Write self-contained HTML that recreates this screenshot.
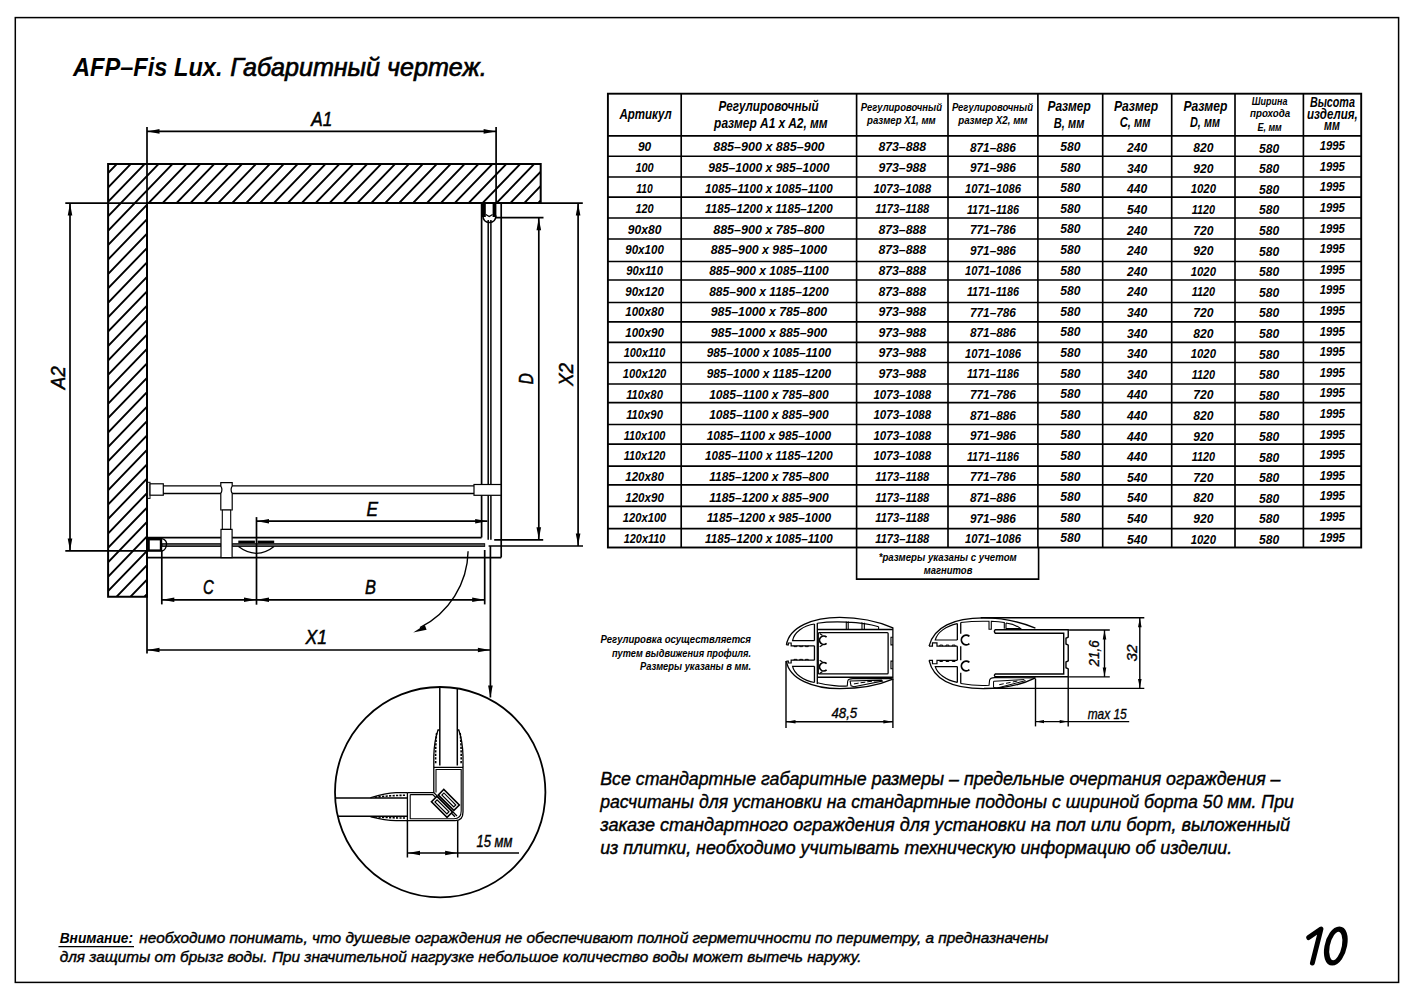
<!DOCTYPE html>
<html><head><meta charset="utf-8"><title>AFP-Fis Lux</title>
<style>
html,body{margin:0;padding:0;background:#fff;}
body{width:1414px;height:1000px;overflow:hidden;}
svg{display:block;font-family:"Liberation Sans", sans-serif;}
text{fill:#000;}
</style></head><body>
<svg width="1414" height="1000" viewBox="0 0 1414 1000">
<rect x="0" y="0" width="1414" height="1000" fill="#fff"/>
<rect x="15.3" y="17.6" width="1383.3" height="964.8" fill="none" stroke="#000" stroke-width="1.5"/>
<text x="73.00" y="76.20" font-size="26.5" text-anchor="start" font-weight="bold" font-style="italic" textLength="149.5" lengthAdjust="spacingAndGlyphs">AFP–Fis Lux.</text>
<text x="230.20" y="76.20" font-size="26.5" text-anchor="start" font-weight="normal" font-style="italic" textLength="256.5" lengthAdjust="spacingAndGlyphs" stroke="#000" stroke-width="0.7">Габаритный чертеж.</text>
<clipPath id="wc"><path d="M108.1,163.9 L540.7,163.9 L540.7,203.1 L147,203.1 L147,596.8 L108.1,596.8 Z"/></clipPath>
<path d="M60.80,150 L-383.10,610 M74.71,150 L-369.19,610 M88.62,150 L-355.28,610 M102.53,150 L-341.37,610 M116.44,150 L-327.46,610 M130.35,150 L-313.55,610 M144.26,150 L-299.64,610 M158.17,150 L-285.73,610 M172.08,150 L-271.82,610 M185.99,150 L-257.91,610 M199.90,150 L-244.00,610 M213.81,150 L-230.09,610 M227.72,150 L-216.18,610 M241.63,150 L-202.27,610 M255.54,150 L-188.36,610 M269.45,150 L-174.45,610 M283.36,150 L-160.54,610 M297.27,150 L-146.63,610 M311.18,150 L-132.72,610 M325.09,150 L-118.81,610 M339.00,150 L-104.90,610 M352.91,150 L-90.99,610 M366.82,150 L-77.08,610 M380.73,150 L-63.17,610 M394.64,150 L-49.26,610 M408.55,150 L-35.35,610 M422.46,150 L-21.44,610 M436.37,150 L-7.53,610 M450.28,150 L6.38,610 M464.19,150 L20.29,610 M478.10,150 L34.20,610 M492.01,150 L48.11,610 M505.92,150 L62.02,610 M519.83,150 L75.93,610 M533.74,150 L89.84,610 M547.65,150 L103.75,610 M561.56,150 L117.66,610 M575.47,150 L131.57,610 M589.38,150 L145.48,610 M603.29,150 L159.39,610 M617.20,150 L173.30,610 M631.11,150 L187.21,610 M645.02,150 L201.12,610 M658.93,150 L215.03,610 M672.84,150 L228.94,610 M686.75,150 L242.85,610 M700.66,150 L256.76,610 M714.57,150 L270.67,610 M728.48,150 L284.58,610 M742.39,150 L298.49,610" stroke="#000" stroke-width="1.9" fill="none" clip-path="url(#wc)"/>
<path d="M108.1,163.9 L540.7,163.9 L540.7,203.1 L147,203.1 L147,596.8 L108.1,596.8 Z" fill="none" stroke="#000" stroke-width="2.0"/>
<line x1="147.00" y1="127.00" x2="147.00" y2="203.10" stroke="#000" stroke-width="1.7"/>
<line x1="496.10" y1="127.00" x2="496.10" y2="203.10" stroke="#000" stroke-width="1.7"/>
<line x1="147.00" y1="131.40" x2="496.10" y2="131.40" stroke="#000" stroke-width="1.7"/>
<path d="M147.50,131.40 L159.50,129.10 L159.50,133.70 Z" fill="#000"/>
<path d="M495.60,131.40 L483.60,133.70 L483.60,129.10 Z" fill="#000"/>
<text x="311.30" y="125.70" font-size="20" text-anchor="start" font-weight="normal" font-style="italic" textLength="21.0" lengthAdjust="spacingAndGlyphs" stroke="#000" stroke-width="0.5">A1</text>
<line x1="65.30" y1="203.10" x2="147.00" y2="203.10" stroke="#000" stroke-width="1.7"/>
<line x1="65.30" y1="550.90" x2="147.00" y2="550.90" stroke="#000" stroke-width="1.7"/>
<line x1="70.00" y1="203.10" x2="70.00" y2="550.90" stroke="#000" stroke-width="1.7"/>
<path d="M70.00,203.60 L72.30,215.60 L67.70,215.60 Z" fill="#000"/>
<path d="M70.00,550.40 L67.70,538.40 L72.30,538.40 Z" fill="#000"/>
<text x="64.80" y="389.30" font-size="20" text-anchor="start" font-weight="normal" font-style="italic" textLength="23.0" lengthAdjust="spacingAndGlyphs" transform="rotate(-90 64.80 389.30)" stroke="#000" stroke-width="0.5">A2</text>
<line x1="540.70" y1="203.10" x2="582.80" y2="203.10" stroke="#000" stroke-width="1.7"/>
<line x1="147.00" y1="596.80" x2="147.00" y2="653.60" stroke="#000" stroke-width="1.7"/>
<line x1="495.50" y1="217.70" x2="543.50" y2="217.70" stroke="#000" stroke-width="1.7"/>
<line x1="494.20" y1="539.80" x2="543.20" y2="539.80" stroke="#000" stroke-width="1.7"/>
<line x1="538.80" y1="217.70" x2="538.80" y2="539.80" stroke="#000" stroke-width="1.7"/>
<path d="M538.80,218.20 L541.10,230.20 L536.50,230.20 Z" fill="#000"/>
<path d="M538.80,539.30 L536.50,527.30 L541.10,527.30 Z" fill="#000"/>
<text x="532.90" y="384.30" font-size="20" text-anchor="start" font-weight="normal" font-style="italic" textLength="11.0" lengthAdjust="spacingAndGlyphs" transform="rotate(-90 532.90 384.30)" stroke="#000" stroke-width="0.5">D</text>
<line x1="488.60" y1="546.00" x2="583.00" y2="546.00" stroke="#000" stroke-width="1.7"/>
<line x1="578.10" y1="203.10" x2="578.10" y2="546.00" stroke="#000" stroke-width="1.7"/>
<path d="M578.10,203.60 L580.40,215.60 L575.80,215.60 Z" fill="#000"/>
<path d="M578.10,545.50 L575.80,533.50 L580.40,533.50 Z" fill="#000"/>
<text x="572.50" y="386.00" font-size="20" text-anchor="start" font-weight="normal" font-style="italic" textLength="23.0" lengthAdjust="spacingAndGlyphs" transform="rotate(-90 572.50 386.00)" stroke="#000" stroke-width="0.5">X2</text>
<line x1="481.60" y1="203.10" x2="481.60" y2="537.60" stroke="#000" stroke-width="1.7"/>
<line x1="501.20" y1="203.10" x2="501.20" y2="557.60" stroke="#000" stroke-width="1.7"/>
<line x1="488.20" y1="220.00" x2="488.20" y2="539.70" stroke="#000" stroke-width="1.5"/>
<line x1="490.90" y1="220.00" x2="490.90" y2="539.70" stroke="#000" stroke-width="1.5"/>
<rect x="482" y="203.5" width="3.8" height="13.5" fill="#000"/>
<rect x="492.6" y="203.5" width="3.8" height="13.5" fill="#000"/>
<path d="M482.8,215.5 Q483.2,222.4 489.4,222.4 Q495.6,222.4 496,215.5" fill="none" stroke="#000" stroke-width="1.5"/>
<path d="M485.8,214.5 L489.2,216.5 L492.6,214.5" fill="none" stroke="#000" stroke-width="1.3"/>
<rect x="147.6" y="482.3" width="2.4" height="16.1" fill="#fff" stroke="#000" stroke-width="1"/>
<rect x="150" y="483.8" width="13.3" height="11.4" fill="#fff" stroke="#000" stroke-width="1.2"/>
<line x1="163.30" y1="485.90" x2="221.00" y2="485.90" stroke="#000" stroke-width="1.3"/>
<line x1="163.30" y1="493.50" x2="221.00" y2="493.50" stroke="#000" stroke-width="1.3"/>
<line x1="232.00" y1="485.90" x2="474.00" y2="485.90" stroke="#000" stroke-width="1.3"/>
<line x1="232.00" y1="493.50" x2="474.00" y2="493.50" stroke="#000" stroke-width="1.3"/>
<path d="M220.8,482.7 L232.2,482.7 L232.2,486 Q230,489.7 232.2,493.4 L232.2,510 L220.8,510 L220.8,493.4 Q223,489.7 220.8,486 Z" fill="#fff" stroke="#000" stroke-width="1.2"/>
<rect x="222.3" y="510" width="8.4" height="19.4" fill="#fff" stroke="#000" stroke-width="1.1"/>
<rect x="474" y="484.5" width="27" height="10.8" fill="#fff" stroke="#000" stroke-width="1.2"/>
<line x1="147.00" y1="537.60" x2="220.80" y2="537.60" stroke="#000" stroke-width="1.7"/>
<line x1="232.10" y1="537.60" x2="481.60" y2="537.60" stroke="#000" stroke-width="1.7"/>
<rect x="162" y="543.7" width="58.8" height="2.7" fill="#555" stroke="#000" stroke-width="0.9"/>
<rect x="232.1" y="543.7" width="252.6" height="2.7" fill="#555" stroke="#000" stroke-width="0.9"/>
<line x1="147.00" y1="557.60" x2="501.20" y2="557.60" stroke="#000" stroke-width="1.7"/>
<rect x="221" y="529.4" width="11.1" height="28.2" fill="#fff" stroke="#000" stroke-width="1.2"/>
<rect x="148.6" y="539.2" width="12.4" height="11.4" fill="#fff" stroke="#000" stroke-width="2.4"/>
<path d="M162,538.6 Q167,540 166.5,544.5 Q166,550 162,551" fill="none" stroke="#000" stroke-width="1.4"/>
<rect x="238.3" y="540.6" width="16.6" height="2.6" fill="#000"/>
<rect x="257.6" y="540.6" width="16.6" height="2.6" fill="#000"/>
<path d="M238.5,546.5 Q247,553 256.4,553.3 Q266,553 274,546.5" fill="none" stroke="#000" stroke-width="1.3"/>
<line x1="256.50" y1="517.10" x2="256.50" y2="604.70" stroke="#000" stroke-width="1.7"/>
<line x1="256.50" y1="521.20" x2="487.40" y2="521.20" stroke="#000" stroke-width="1.7"/>
<path d="M257.00,521.20 L269.00,518.90 L269.00,523.50 Z" fill="#000"/>
<path d="M487.20,521.20 L475.20,523.50 L475.20,518.90 Z" fill="#000"/>
<text x="366.50" y="515.50" font-size="20" text-anchor="start" font-weight="normal" font-style="italic" textLength="11.5" lengthAdjust="spacingAndGlyphs" stroke="#000" stroke-width="0.5">E</text>
<line x1="161.80" y1="551.00" x2="161.80" y2="604.40" stroke="#000" stroke-width="1.7"/>
<line x1="484.70" y1="550.00" x2="484.70" y2="604.40" stroke="#000" stroke-width="1.7"/>
<line x1="161.80" y1="599.80" x2="484.70" y2="599.80" stroke="#000" stroke-width="1.7"/>
<path d="M162.30,599.80 L174.30,597.50 L174.30,602.10 Z" fill="#000"/>
<path d="M256.00,599.80 L244.00,602.10 L244.00,597.50 Z" fill="#000"/>
<path d="M257.00,599.80 L269.00,597.50 L269.00,602.10 Z" fill="#000"/>
<path d="M484.20,599.80 L472.20,602.10 L472.20,597.50 Z" fill="#000"/>
<text x="203.00" y="593.80" font-size="20" text-anchor="start" font-weight="normal" font-style="italic" textLength="10.8" lengthAdjust="spacingAndGlyphs" stroke="#000" stroke-width="0.5">C</text>
<text x="365.00" y="593.80" font-size="20" text-anchor="start" font-weight="normal" font-style="italic" textLength="11.0" lengthAdjust="spacingAndGlyphs" stroke="#000" stroke-width="0.5">B</text>
<line x1="490.40" y1="546.00" x2="490.40" y2="697.50" stroke="#000" stroke-width="1.7"/>
<line x1="147.00" y1="650.00" x2="490.40" y2="650.00" stroke="#000" stroke-width="1.7"/>
<path d="M147.50,650.00 L159.50,647.70 L159.50,652.30 Z" fill="#000"/>
<path d="M489.90,650.00 L477.90,652.30 L477.90,647.70 Z" fill="#000"/>
<path d="M490.40,697.50 L488.10,685.50 L492.70,685.50 Z" fill="#000"/>
<text x="305.50" y="643.60" font-size="20" text-anchor="start" font-weight="normal" font-style="italic" textLength="21.5" lengthAdjust="spacingAndGlyphs" stroke="#000" stroke-width="0.5">X1</text>
<path d="M468.1,551.2 A87.5,87.5 0 0 1 420,627.6" fill="none" stroke="#000" stroke-width="1.4"/>
<path d="M413.20,632.40 L424.78,625.02 L426.65,629.65 Z" fill="#000"/>
<circle cx="440.2" cy="792.2" r="105.2" fill="none" stroke="#000" stroke-width="1.8"/>
<clipPath id="cc"><circle cx="440.2" cy="792.2" r="105"/></clipPath>
<g clip-path="url(#cc)" fill="none" stroke="#000" stroke-width="1.3"><path d="M439.8,680 L439.8,765.6 M457.3,680 L457.3,765.6" stroke-width="1.5"/><path d="M330,798.1 L407.4,798.1 M330,816.2 L407.4,816.2" stroke-width="1.5"/><path d="M407.4,792.6 L433.8,792.6 L457,816 M410.2,794.6 L432.8,794.6 L455,816.8"/><path d="M407.4,792.6 L407.4,820.7 L455,820.7 Q463,820.7 463,812 L463,767.3 L433.8,767.3 L433.8,792.6"/><path d="M410.2,794.6 L410.2,818.8 L454,818.8 Q461.2,818.8 461.2,811 L461.2,769.5 L436,769.5 L436,792.6" stroke-width="1.1"/><path d="M433.8,767 L433.8,756 Q434.2,741 438,730 L439.6,730 M463,767 L463,756 Q462.6,741 458.8,730 L457.3,730" stroke-width="1.3"/><path d="M436.6,733 Q435.3,748 435.7,764 M460.2,733 Q461.5,748 461.1,764" stroke-width="1.6" stroke-dasharray="2.2,1.3"/><path d="M407.4,792.6 L396,792.6 Q385,793 371,797.5 L371,798.3 M407.4,820.7 L396,820.7 Q385,820.2 371,816.8 L371,816.3" stroke-width="1.3"/><path d="M405,795.3 Q390,795.4 374,797.4 M405,818 Q390,818 374,816.6" stroke-width="1.6" stroke-dasharray="2.2,1.3"/><g transform="rotate(45 445.4 803.4)"><rect x="434.4" y="794.7" width="22" height="7.7" fill="#fff" stroke-width="1.6"/><rect x="434.4" y="804.4" width="22" height="7.7" fill="#fff" stroke-width="1.6"/><rect x="437" y="797.1" width="16.8" height="2.9" stroke-width="1.2"/><rect x="437" y="806.8" width="16.8" height="2.9" stroke-width="1.2"/></g></g>
<line x1="407.40" y1="821.00" x2="407.40" y2="857.50" stroke="#000" stroke-width="1.5"/>
<line x1="457.70" y1="821.00" x2="457.70" y2="857.50" stroke="#000" stroke-width="1.5"/>
<line x1="407.40" y1="853.00" x2="519.00" y2="853.00" stroke="#000" stroke-width="1.5"/>
<path d="M408.00,853.00 L420.00,850.70 L420.00,855.30 Z" fill="#000"/>
<path d="M457.10,853.00 L445.10,855.30 L445.10,850.70 Z" fill="#000"/>
<text x="476.50" y="847.30" font-size="16.5" text-anchor="start" font-weight="normal" font-style="italic" textLength="36.0" lengthAdjust="spacingAndGlyphs" stroke="#000" stroke-width="0.4">15 мм</text>
<path d=" M786.41,644.92 C789.26,626.86,813.02,617.36,839.64,617.36 C860.55,617.36,879.56,622.11,892.87,627.81 L892.87,679.14 C879.56,684.85,860.55,688.65,839.64,688.65 C813.02,688.65,789.26,679.14,786.41,661.08" fill="none" stroke="#000" stroke-width="1.3"/>
<path d=" M786.41,644.92 L788.31,644.92 L788.31,643.02 L791.16,643.02 L791.16,645.87 L814.45,645.87" fill="none" stroke="#000" stroke-width="1.2"/>
<path d=" M786.41,661.08 L788.31,661.08 L788.31,662.98 L791.16,662.98 L791.16,660.13 L814.45,660.13" fill="none" stroke="#000" stroke-width="1.2"/>
<path d=" M794.01,645.68 L794.01,646.63 L796.86,646.63 L796.86,645.68 M799.71,645.68 L799.71,646.63 L802.57,646.63 L802.57,645.68 M805.42,645.68 L805.42,646.63 L808.27,646.63 L808.27,645.68" fill="none" stroke="#000" stroke-width="1.0"/>
<path d=" M794.01,660.32 L794.01,659.37 L796.86,659.37 L796.86,660.32 M799.71,660.32 L799.71,659.37 L802.57,659.37 L802.57,660.32 M805.42,660.32 L805.42,659.37 L808.27,659.37 L808.27,660.32" fill="none" stroke="#000" stroke-width="1.0"/>
<path d=" M814.45,624.01 C803.52,625.44,794.01,632.57,792.59,640.65 L814.45,640.65" fill="none" stroke="#000" stroke-width="1.2"/>
<path d=" M814.45,682.47 C803.52,681.05,794.01,673.44,792.59,666.31 L814.45,666.31" fill="none" stroke="#000" stroke-width="1.2"/>
<path d=" M814.45,624.01 L814.45,640.65 M814.45,645.68 L814.45,660.32 M814.45,666.31 L814.45,682.47 M817.30,623.06 L817.30,683.90" fill="none" stroke="#000" stroke-width="1.3"/>
<path d=" M817.30,623.25 C832.03,620.97,860.55,621.35,878.61,626.67 M846.29,621.35 L846.29,629.24 M848.19,621.35 L848.19,629.24 M861.98,622.30 L861.98,629.24 M864.35,622.87 L864.35,629.24 M878.61,626.67 L878.61,629.24" fill="none" stroke="#000" stroke-width="1.1"/>
<path d=" M817.30,629.43 L892.87,629.43" fill="none" stroke="#000" stroke-width="1.5"/>
<path d=" M819.20,632.57 L887.17,632.57 Q888.12,632.57,888.12,633.52 L888.12,672.97 Q888.12,673.92,887.17,673.92 L819.20,673.92 Q818.25,673.92,818.25,672.97 L818.25,633.52 Q818.25,632.57,819.20,632.57 Z" fill="none" stroke="#000" stroke-width="1.3"/>
<path d=" M817.30,677.24 L892.87,677.24" fill="none" stroke="#000" stroke-width="1.5"/>
<path d=" M817.30,682.76 C828.23,685.61,841.54,686.56,847.24,685.99 L847.72,681.05 C848.19,679.14,850.10,678.67,852.95,678.67 L891.92,678.67" fill="none" stroke="#000" stroke-width="1.1"/>
<path d=" M850.10,681.05 L881.46,680.10 L882.41,681.05 L853.90,686.75 L851.05,685.80 Z" fill="none" stroke="#000" stroke-width="1.1"/>
<path d=" M853.90,683.90 L858.65,683.14 M860.55,682.76 L865.30,682.19 M867.21,681.81 L871.96,681.24 M873.86,681.05 L878.61,680.76" fill="none" stroke="#000" stroke-width="1.0"/>
<path d="M826.6,637.1 A4.2,4.2 0 1 0 826.6,643.3 M826.6,663.7 A4.2,4.2 0 1 0 826.6,669.9" fill="none" stroke="#000" stroke-width="1.7"/>
<path d=" M819.68,633.52 L822.53,635.42 M819.68,646.83 L822.53,644.92 M819.68,660.13 L822.53,662.03 M819.68,673.44 L822.53,671.54" fill="none" stroke="#000" stroke-width="1.2"/>
<path d=" M892.87,637.32 L890.97,637.32 L890.97,644.92 L892.87,644.92 M892.87,661.08 L890.97,661.08 L890.97,668.69 L892.87,668.69" fill="none" stroke="#000" stroke-width="1.1"/>
<path d=" M929.05,646.21 C933.58,626.97,953.95,617.92,983.37,617.92 C1006.00,617.92,1021.84,622.45,1035.42,628.10" fill="none" stroke="#000" stroke-width="1.3"/>
<path d=" M929.05,660.35 C933.58,680.16,953.95,688.64,983.37,688.64 C1006.00,688.64,1021.84,684.68,1035.42,677.89" fill="none" stroke="#000" stroke-width="1.3"/>
<path d=" M929.05,646.21 L932.45,646.21 L932.45,642.81 L936.97,642.81 L936.97,646.21 L957.34,646.21" fill="none" stroke="#000" stroke-width="1.2"/>
<path d=" M929.05,660.35 L932.45,660.35 L932.45,663.75 L936.97,663.75 L936.97,660.35 L957.34,660.35" fill="none" stroke="#000" stroke-width="1.2"/>
<path d=" M939.80,646.21 L939.80,645.08 L942.63,645.08 L942.63,646.21 M946.03,646.21 L946.03,645.08 L948.85,645.08 L948.85,646.21 M952.25,646.21 L952.25,645.08 L955.08,645.08 L955.08,646.21" fill="none" stroke="#000" stroke-width="1.0"/>
<path d=" M939.80,660.35 L939.80,661.49 L942.63,661.49 L942.63,660.35 M946.03,660.35 L946.03,661.49 L948.85,661.49 L948.85,660.35 M952.25,660.35 L952.25,661.49 L955.08,661.49 L955.08,660.35" fill="none" stroke="#000" stroke-width="1.0"/>
<path d=" M957.34,623.58 C946.03,625.84,936.97,632.63,935.28,639.99 L957.34,639.99" fill="none" stroke="#000" stroke-width="1.2"/>
<path d=" M957.34,682.42 C946.03,680.16,936.97,673.37,935.28,666.58 L957.34,666.58" fill="none" stroke="#000" stroke-width="1.2"/>
<path d=" M957.34,623.58 L957.34,639.99 M957.34,646.21 L957.34,660.35 M957.34,666.58 L957.34,682.42 M960.74,622.45 L960.74,633.76 M960.74,646.21 L960.74,660.35 M960.74,672.80 L960.74,683.55" fill="none" stroke="#000" stroke-width="1.3"/>
<path d=" M960.74,622.45 C970.92,621.32,979.97,621.09,989.02,621.32 L989.02,629.24 L991.29,629.24 L991.29,621.32 C999.21,621.88,1004.30,622.45,1004.30,622.45 L1004.30,628.67 M1006.00,623.01 L1006.00,628.67 L1020.71,628.67 C1017.31,625.84,1010.52,623.58,1006.00,623.01" fill="none" stroke="#000" stroke-width="1.1"/>
<path d=" M995.25,629.80 L1068.23,629.80 L1068.23,637.16 L1065.97,638.29 L1065.97,643.95 L1068.23,645.08 L1068.23,660.92 L1065.97,662.05 L1065.97,667.71 L1068.23,668.84 L1068.23,676.76 L995.25,676.76 Q993.55,675.29,995.25,673.93 L1063.71,673.93 L1063.71,633.20 L995.25,633.20 Q993.55,631.50,995.25,629.80 Z" fill="none" stroke="#000" stroke-width="1.4"/>
<path d=" M960.74,683.55 C970.92,685.25,981.10,685.81,989.02,685.25 L989.59,680.16 C990.16,677.89,992.42,677.67,994.68,677.67 L1035.42,677.89" fill="none" stroke="#000" stroke-width="1.1"/>
<path d=" M993.55,681.29 L1024.10,679.59 L1025.23,680.72 L996.94,688.08 L993.55,687.51 Z" fill="none" stroke="#000" stroke-width="1.0"/>
<path d=" M999.21,684.68 L1003.73,683.78 M1006.00,683.32 L1010.52,682.42 M1012.79,681.97 L1017.31,681.06" fill="none" stroke="#000" stroke-width="1.0"/>
<path d="M969.4,636.4 A4.8,4.8 0 1 0 969.4,643.6 M969.4,662.4 A4.8,4.8 0 1 0 969.4,669.6" fill="none" stroke="#000" stroke-width="1.8"/>
<line x1="786.00" y1="661.00" x2="786.00" y2="727.90" stroke="#000" stroke-width="1.4"/>
<line x1="892.90" y1="679.00" x2="892.90" y2="727.90" stroke="#000" stroke-width="1.4"/>
<line x1="786.00" y1="721.80" x2="892.90" y2="721.80" stroke="#000" stroke-width="1.4"/>
<path d="M786.50,721.80 L795.50,720.00 L795.50,723.60 Z" fill="#000"/>
<path d="M892.40,721.80 L883.40,723.60 L883.40,720.00 Z" fill="#000"/>
<text x="831.50" y="717.90" font-size="15" text-anchor="start" font-weight="normal" font-style="italic" textLength="25.7" lengthAdjust="spacingAndGlyphs" stroke="#000" stroke-width="0.35">48,5</text>
<line x1="980.70" y1="617.70" x2="1144.30" y2="617.70" stroke="#000" stroke-width="1.4"/>
<line x1="984.00" y1="688.40" x2="1144.30" y2="688.40" stroke="#000" stroke-width="1.4"/>
<line x1="1139.80" y1="617.70" x2="1139.80" y2="688.40" stroke="#000" stroke-width="1.4"/>
<path d="M1139.80,618.20 L1141.60,627.20 L1138.00,627.20 Z" fill="#000"/>
<path d="M1139.80,687.90 L1138.00,678.90 L1141.60,678.90 Z" fill="#000"/>
<text x="1136.50" y="653.00" font-size="15" text-anchor="middle" font-weight="normal" font-style="italic" textLength="17.0" lengthAdjust="spacingAndGlyphs" transform="rotate(-90 1136.50 653.00)" stroke="#000" stroke-width="0.35">32</text>
<line x1="1069.10" y1="630.00" x2="1109.80" y2="630.00" stroke="#000" stroke-width="1.4"/>
<line x1="1069.10" y1="676.90" x2="1109.80" y2="676.90" stroke="#000" stroke-width="1.4"/>
<line x1="1104.50" y1="630.00" x2="1104.50" y2="676.90" stroke="#000" stroke-width="1.4"/>
<path d="M1104.50,630.50 L1106.30,639.50 L1102.70,639.50 Z" fill="#000"/>
<path d="M1104.50,676.40 L1102.70,667.40 L1106.30,667.40 Z" fill="#000"/>
<text x="1099.00" y="653.40" font-size="15" text-anchor="middle" font-weight="normal" font-style="italic" textLength="26.0" lengthAdjust="spacingAndGlyphs" transform="rotate(-90 1099.00 653.40)" stroke="#000" stroke-width="0.35">21,6</text>
<line x1="1035.50" y1="678.70" x2="1035.50" y2="726.40" stroke="#000" stroke-width="1.4"/>
<line x1="1068.20" y1="676.90" x2="1068.20" y2="726.40" stroke="#000" stroke-width="1.4"/>
<line x1="1035.50" y1="721.60" x2="1129.20" y2="721.60" stroke="#000" stroke-width="1.4"/>
<path d="M1036.00,721.60 L1044.00,720.00 L1044.00,723.20 Z" fill="#000"/>
<path d="M1067.70,721.60 L1059.70,723.20 L1059.70,720.00 Z" fill="#000"/>
<text x="1087.70" y="719.30" font-size="15" text-anchor="start" font-weight="normal" font-style="italic" textLength="39.0" lengthAdjust="spacingAndGlyphs" stroke="#000" stroke-width="0.35">max 15</text>
<text x="751.00" y="642.50" font-size="10.5" text-anchor="end" font-weight="bold" font-style="italic" textLength="150.5" lengthAdjust="spacingAndGlyphs">Регулировка осуществляется</text>
<text x="751.00" y="656.50" font-size="10.5" text-anchor="end" font-weight="bold" font-style="italic" textLength="139.0" lengthAdjust="spacingAndGlyphs">путем выдвижения профиля.</text>
<text x="751.00" y="669.50" font-size="10.5" text-anchor="end" font-weight="bold" font-style="italic" textLength="111.0" lengthAdjust="spacingAndGlyphs">Размеры указаны в мм.</text>
<rect x="607.9" y="93.7" width="753.3" height="453.8" fill="none" stroke="#000" stroke-width="1.9"/><line x1="681.2" y1="93.7" x2="681.2" y2="547.5" stroke="#000" stroke-width="1.65"/><line x1="856.6" y1="93.7" x2="856.6" y2="547.5" stroke="#000" stroke-width="1.65"/><line x1="948.0" y1="93.7" x2="948.0" y2="547.5" stroke="#000" stroke-width="1.65"/><line x1="1037.9" y1="93.7" x2="1037.9" y2="547.5" stroke="#000" stroke-width="1.65"/><line x1="1102.7" y1="93.7" x2="1102.7" y2="547.5" stroke="#000" stroke-width="1.65"/><line x1="1171.7" y1="93.7" x2="1171.7" y2="547.5" stroke="#000" stroke-width="1.65"/><line x1="1235.0" y1="93.7" x2="1235.0" y2="547.5" stroke="#000" stroke-width="1.65"/><line x1="1303.4" y1="93.7" x2="1303.4" y2="547.5" stroke="#000" stroke-width="1.65"/><line x1="607.9" y1="135.9" x2="1361.2" y2="135.9" stroke="#000" stroke-width="1.65"/><line x1="607.9" y1="156.2" x2="1361.2" y2="156.2" stroke="#000" stroke-width="1.65"/><line x1="607.9" y1="177.0" x2="1361.2" y2="177.0" stroke="#000" stroke-width="1.65"/><line x1="607.9" y1="197.1" x2="1361.2" y2="197.1" stroke="#000" stroke-width="1.65"/><line x1="607.9" y1="218.0" x2="1361.2" y2="218.0" stroke="#000" stroke-width="1.65"/><line x1="607.9" y1="239.0" x2="1361.2" y2="239.0" stroke="#000" stroke-width="1.65"/><line x1="607.9" y1="261.5" x2="1361.2" y2="261.5" stroke="#000" stroke-width="1.65"/><line x1="607.9" y1="280.0" x2="1361.2" y2="280.0" stroke="#000" stroke-width="1.65"/><line x1="607.9" y1="302.5" x2="1361.2" y2="302.5" stroke="#000" stroke-width="1.65"/><line x1="607.9" y1="321.9" x2="1361.2" y2="321.9" stroke="#000" stroke-width="1.65"/><line x1="607.9" y1="342.3" x2="1361.2" y2="342.3" stroke="#000" stroke-width="1.65"/><line x1="607.9" y1="362.5" x2="1361.2" y2="362.5" stroke="#000" stroke-width="1.65"/><line x1="607.9" y1="384.0" x2="1361.2" y2="384.0" stroke="#000" stroke-width="1.65"/><line x1="607.9" y1="402.6" x2="1361.2" y2="402.6" stroke="#000" stroke-width="1.65"/><line x1="607.9" y1="424.5" x2="1361.2" y2="424.5" stroke="#000" stroke-width="1.65"/><line x1="607.9" y1="444.1" x2="1361.2" y2="444.1" stroke="#000" stroke-width="1.65"/><line x1="607.9" y1="466.1" x2="1361.2" y2="466.1" stroke="#000" stroke-width="1.65"/><line x1="607.9" y1="484.9" x2="1361.2" y2="484.9" stroke="#000" stroke-width="1.65"/><line x1="607.9" y1="506.4" x2="1361.2" y2="506.4" stroke="#000" stroke-width="1.65"/><line x1="607.9" y1="528.6" x2="1361.2" y2="528.6" stroke="#000" stroke-width="1.65"/>
<path d="M856.6,547.5 L856.6,579.1 L1038.6,579.1 L1038.6,547.5" fill="none" stroke="#000" stroke-width="1.6"/>
<text x="947.70" y="561.20" font-size="10.5" text-anchor="middle" font-weight="bold" font-style="italic" textLength="138.0" lengthAdjust="spacingAndGlyphs">*размеры указаны с учетом</text>
<text x="948.10" y="573.60" font-size="10.5" text-anchor="middle" font-weight="bold" font-style="italic" textLength="48.5" lengthAdjust="spacingAndGlyphs">магнитов</text>
<text x="644.55" y="151.40" font-size="13" text-anchor="middle" font-weight="bold" font-style="italic" textLength="13.3" lengthAdjust="spacingAndGlyphs">90</text>
<text x="768.90" y="151.40" font-size="13" text-anchor="middle" font-weight="bold" font-style="italic" textLength="111.4" lengthAdjust="spacingAndGlyphs">885–900 x 885–900</text>
<text x="902.30" y="151.40" font-size="13" text-anchor="middle" font-weight="bold" font-style="italic" textLength="47.8" lengthAdjust="spacingAndGlyphs">873–888</text>
<text x="992.95" y="151.80" font-size="13" text-anchor="middle" font-weight="bold" font-style="italic" textLength="45.9" lengthAdjust="spacingAndGlyphs">871–886</text>
<text x="1070.30" y="151.00" font-size="13" text-anchor="middle" font-weight="bold" font-style="italic" textLength="20.2" lengthAdjust="spacingAndGlyphs">580</text>
<text x="1137.20" y="152.10" font-size="13" text-anchor="middle" font-weight="bold" font-style="italic" textLength="20.2" lengthAdjust="spacingAndGlyphs">240</text>
<text x="1203.35" y="152.10" font-size="13" text-anchor="middle" font-weight="bold" font-style="italic" textLength="20.2" lengthAdjust="spacingAndGlyphs">820</text>
<text x="1269.20" y="152.50" font-size="13" text-anchor="middle" font-weight="bold" font-style="italic" textLength="20.2" lengthAdjust="spacingAndGlyphs">580</text>
<text x="1332.30" y="150.20" font-size="13" text-anchor="middle" font-weight="bold" font-style="italic" textLength="25.2" lengthAdjust="spacingAndGlyphs">1995</text>
<text x="644.55" y="172.00" font-size="13" text-anchor="middle" font-weight="bold" font-style="italic" textLength="18.3" lengthAdjust="spacingAndGlyphs">100</text>
<text x="768.90" y="172.00" font-size="13" text-anchor="middle" font-weight="bold" font-style="italic" textLength="121.4" lengthAdjust="spacingAndGlyphs">985–1000 x 985–1000</text>
<text x="902.30" y="172.00" font-size="13" text-anchor="middle" font-weight="bold" font-style="italic" textLength="47.8" lengthAdjust="spacingAndGlyphs">973–988</text>
<text x="992.95" y="172.40" font-size="13" text-anchor="middle" font-weight="bold" font-style="italic" textLength="45.9" lengthAdjust="spacingAndGlyphs">971–986</text>
<text x="1070.30" y="171.60" font-size="13" text-anchor="middle" font-weight="bold" font-style="italic" textLength="20.2" lengthAdjust="spacingAndGlyphs">580</text>
<text x="1137.20" y="172.70" font-size="13" text-anchor="middle" font-weight="bold" font-style="italic" textLength="20.2" lengthAdjust="spacingAndGlyphs">340</text>
<text x="1203.35" y="172.70" font-size="13" text-anchor="middle" font-weight="bold" font-style="italic" textLength="20.2" lengthAdjust="spacingAndGlyphs">920</text>
<text x="1269.20" y="173.10" font-size="13" text-anchor="middle" font-weight="bold" font-style="italic" textLength="20.2" lengthAdjust="spacingAndGlyphs">580</text>
<text x="1332.30" y="170.80" font-size="13" text-anchor="middle" font-weight="bold" font-style="italic" textLength="25.2" lengthAdjust="spacingAndGlyphs">1995</text>
<text x="644.55" y="192.60" font-size="13" text-anchor="middle" font-weight="bold" font-style="italic" textLength="16.4" lengthAdjust="spacingAndGlyphs">110</text>
<text x="768.90" y="192.60" font-size="13" text-anchor="middle" font-weight="bold" font-style="italic" textLength="127.6" lengthAdjust="spacingAndGlyphs">1085–1100 x 1085–1100</text>
<text x="902.30" y="192.60" font-size="13" text-anchor="middle" font-weight="bold" font-style="italic" textLength="57.8" lengthAdjust="spacingAndGlyphs">1073–1088</text>
<text x="992.95" y="193.00" font-size="13" text-anchor="middle" font-weight="bold" font-style="italic" textLength="55.9" lengthAdjust="spacingAndGlyphs">1071–1086</text>
<text x="1070.30" y="192.20" font-size="13" text-anchor="middle" font-weight="bold" font-style="italic" textLength="20.2" lengthAdjust="spacingAndGlyphs">580</text>
<text x="1137.20" y="193.30" font-size="13" text-anchor="middle" font-weight="bold" font-style="italic" textLength="20.2" lengthAdjust="spacingAndGlyphs">440</text>
<text x="1203.35" y="193.30" font-size="13" text-anchor="middle" font-weight="bold" font-style="italic" textLength="25.2" lengthAdjust="spacingAndGlyphs">1020</text>
<text x="1269.20" y="193.70" font-size="13" text-anchor="middle" font-weight="bold" font-style="italic" textLength="20.2" lengthAdjust="spacingAndGlyphs">580</text>
<text x="1332.30" y="191.40" font-size="13" text-anchor="middle" font-weight="bold" font-style="italic" textLength="25.2" lengthAdjust="spacingAndGlyphs">1995</text>
<text x="644.55" y="213.20" font-size="13" text-anchor="middle" font-weight="bold" font-style="italic" textLength="18.3" lengthAdjust="spacingAndGlyphs">120</text>
<text x="768.90" y="213.20" font-size="13" text-anchor="middle" font-weight="bold" font-style="italic" textLength="127.6" lengthAdjust="spacingAndGlyphs">1185–1200 x 1185–1200</text>
<text x="902.30" y="213.20" font-size="13" text-anchor="middle" font-weight="bold" font-style="italic" textLength="54.0" lengthAdjust="spacingAndGlyphs">1173–1188</text>
<text x="992.95" y="213.60" font-size="13" text-anchor="middle" font-weight="bold" font-style="italic" textLength="52.1" lengthAdjust="spacingAndGlyphs">1171–1186</text>
<text x="1070.30" y="212.80" font-size="13" text-anchor="middle" font-weight="bold" font-style="italic" textLength="20.2" lengthAdjust="spacingAndGlyphs">580</text>
<text x="1137.20" y="213.90" font-size="13" text-anchor="middle" font-weight="bold" font-style="italic" textLength="20.2" lengthAdjust="spacingAndGlyphs">540</text>
<text x="1203.35" y="213.90" font-size="13" text-anchor="middle" font-weight="bold" font-style="italic" textLength="23.3" lengthAdjust="spacingAndGlyphs">1120</text>
<text x="1269.20" y="214.30" font-size="13" text-anchor="middle" font-weight="bold" font-style="italic" textLength="20.2" lengthAdjust="spacingAndGlyphs">580</text>
<text x="1332.30" y="212.00" font-size="13" text-anchor="middle" font-weight="bold" font-style="italic" textLength="25.2" lengthAdjust="spacingAndGlyphs">1995</text>
<text x="644.55" y="233.80" font-size="13" text-anchor="middle" font-weight="bold" font-style="italic" textLength="33.6" lengthAdjust="spacingAndGlyphs">90x80</text>
<text x="768.90" y="233.80" font-size="13" text-anchor="middle" font-weight="bold" font-style="italic" textLength="111.4" lengthAdjust="spacingAndGlyphs">885–900 x 785–800</text>
<text x="902.30" y="233.80" font-size="13" text-anchor="middle" font-weight="bold" font-style="italic" textLength="47.8" lengthAdjust="spacingAndGlyphs">873–888</text>
<text x="992.95" y="234.20" font-size="13" text-anchor="middle" font-weight="bold" font-style="italic" textLength="45.9" lengthAdjust="spacingAndGlyphs">771–786</text>
<text x="1070.30" y="233.40" font-size="13" text-anchor="middle" font-weight="bold" font-style="italic" textLength="20.2" lengthAdjust="spacingAndGlyphs">580</text>
<text x="1137.20" y="234.50" font-size="13" text-anchor="middle" font-weight="bold" font-style="italic" textLength="20.2" lengthAdjust="spacingAndGlyphs">240</text>
<text x="1203.35" y="234.50" font-size="13" text-anchor="middle" font-weight="bold" font-style="italic" textLength="20.2" lengthAdjust="spacingAndGlyphs">720</text>
<text x="1269.20" y="234.90" font-size="13" text-anchor="middle" font-weight="bold" font-style="italic" textLength="20.2" lengthAdjust="spacingAndGlyphs">580</text>
<text x="1332.30" y="232.60" font-size="13" text-anchor="middle" font-weight="bold" font-style="italic" textLength="25.2" lengthAdjust="spacingAndGlyphs">1995</text>
<text x="644.55" y="254.40" font-size="13" text-anchor="middle" font-weight="bold" font-style="italic" textLength="38.6" lengthAdjust="spacingAndGlyphs">90x100</text>
<text x="768.90" y="254.40" font-size="13" text-anchor="middle" font-weight="bold" font-style="italic" textLength="116.4" lengthAdjust="spacingAndGlyphs">885–900 x 985–1000</text>
<text x="902.30" y="254.40" font-size="13" text-anchor="middle" font-weight="bold" font-style="italic" textLength="47.8" lengthAdjust="spacingAndGlyphs">873–888</text>
<text x="992.95" y="254.80" font-size="13" text-anchor="middle" font-weight="bold" font-style="italic" textLength="45.9" lengthAdjust="spacingAndGlyphs">971–986</text>
<text x="1070.30" y="254.00" font-size="13" text-anchor="middle" font-weight="bold" font-style="italic" textLength="20.2" lengthAdjust="spacingAndGlyphs">580</text>
<text x="1137.20" y="255.10" font-size="13" text-anchor="middle" font-weight="bold" font-style="italic" textLength="20.2" lengthAdjust="spacingAndGlyphs">240</text>
<text x="1203.35" y="255.10" font-size="13" text-anchor="middle" font-weight="bold" font-style="italic" textLength="20.2" lengthAdjust="spacingAndGlyphs">920</text>
<text x="1269.20" y="255.50" font-size="13" text-anchor="middle" font-weight="bold" font-style="italic" textLength="20.2" lengthAdjust="spacingAndGlyphs">580</text>
<text x="1332.30" y="253.20" font-size="13" text-anchor="middle" font-weight="bold" font-style="italic" textLength="25.2" lengthAdjust="spacingAndGlyphs">1995</text>
<text x="644.55" y="275.00" font-size="13" text-anchor="middle" font-weight="bold" font-style="italic" textLength="36.7" lengthAdjust="spacingAndGlyphs">90x110</text>
<text x="768.90" y="275.00" font-size="13" text-anchor="middle" font-weight="bold" font-style="italic" textLength="119.5" lengthAdjust="spacingAndGlyphs">885–900 x 1085–1100</text>
<text x="902.30" y="275.00" font-size="13" text-anchor="middle" font-weight="bold" font-style="italic" textLength="47.8" lengthAdjust="spacingAndGlyphs">873–888</text>
<text x="992.95" y="275.40" font-size="13" text-anchor="middle" font-weight="bold" font-style="italic" textLength="55.9" lengthAdjust="spacingAndGlyphs">1071–1086</text>
<text x="1070.30" y="274.60" font-size="13" text-anchor="middle" font-weight="bold" font-style="italic" textLength="20.2" lengthAdjust="spacingAndGlyphs">580</text>
<text x="1137.20" y="275.70" font-size="13" text-anchor="middle" font-weight="bold" font-style="italic" textLength="20.2" lengthAdjust="spacingAndGlyphs">240</text>
<text x="1203.35" y="275.70" font-size="13" text-anchor="middle" font-weight="bold" font-style="italic" textLength="25.2" lengthAdjust="spacingAndGlyphs">1020</text>
<text x="1269.20" y="276.10" font-size="13" text-anchor="middle" font-weight="bold" font-style="italic" textLength="20.2" lengthAdjust="spacingAndGlyphs">580</text>
<text x="1332.30" y="273.80" font-size="13" text-anchor="middle" font-weight="bold" font-style="italic" textLength="25.2" lengthAdjust="spacingAndGlyphs">1995</text>
<text x="644.55" y="295.60" font-size="13" text-anchor="middle" font-weight="bold" font-style="italic" textLength="38.6" lengthAdjust="spacingAndGlyphs">90x120</text>
<text x="768.90" y="295.60" font-size="13" text-anchor="middle" font-weight="bold" font-style="italic" textLength="119.5" lengthAdjust="spacingAndGlyphs">885–900 x 1185–1200</text>
<text x="902.30" y="295.60" font-size="13" text-anchor="middle" font-weight="bold" font-style="italic" textLength="47.8" lengthAdjust="spacingAndGlyphs">873–888</text>
<text x="992.95" y="296.00" font-size="13" text-anchor="middle" font-weight="bold" font-style="italic" textLength="52.1" lengthAdjust="spacingAndGlyphs">1171–1186</text>
<text x="1070.30" y="295.20" font-size="13" text-anchor="middle" font-weight="bold" font-style="italic" textLength="20.2" lengthAdjust="spacingAndGlyphs">580</text>
<text x="1137.20" y="296.30" font-size="13" text-anchor="middle" font-weight="bold" font-style="italic" textLength="20.2" lengthAdjust="spacingAndGlyphs">240</text>
<text x="1203.35" y="296.30" font-size="13" text-anchor="middle" font-weight="bold" font-style="italic" textLength="23.3" lengthAdjust="spacingAndGlyphs">1120</text>
<text x="1269.20" y="296.70" font-size="13" text-anchor="middle" font-weight="bold" font-style="italic" textLength="20.2" lengthAdjust="spacingAndGlyphs">580</text>
<text x="1332.30" y="294.40" font-size="13" text-anchor="middle" font-weight="bold" font-style="italic" textLength="25.2" lengthAdjust="spacingAndGlyphs">1995</text>
<text x="644.55" y="316.20" font-size="13" text-anchor="middle" font-weight="bold" font-style="italic" textLength="38.6" lengthAdjust="spacingAndGlyphs">100x80</text>
<text x="768.90" y="316.20" font-size="13" text-anchor="middle" font-weight="bold" font-style="italic" textLength="116.4" lengthAdjust="spacingAndGlyphs">985–1000 x 785–800</text>
<text x="902.30" y="316.20" font-size="13" text-anchor="middle" font-weight="bold" font-style="italic" textLength="47.8" lengthAdjust="spacingAndGlyphs">973–988</text>
<text x="992.95" y="316.60" font-size="13" text-anchor="middle" font-weight="bold" font-style="italic" textLength="45.9" lengthAdjust="spacingAndGlyphs">771–786</text>
<text x="1070.30" y="315.80" font-size="13" text-anchor="middle" font-weight="bold" font-style="italic" textLength="20.2" lengthAdjust="spacingAndGlyphs">580</text>
<text x="1137.20" y="316.90" font-size="13" text-anchor="middle" font-weight="bold" font-style="italic" textLength="20.2" lengthAdjust="spacingAndGlyphs">340</text>
<text x="1203.35" y="316.90" font-size="13" text-anchor="middle" font-weight="bold" font-style="italic" textLength="20.2" lengthAdjust="spacingAndGlyphs">720</text>
<text x="1269.20" y="317.30" font-size="13" text-anchor="middle" font-weight="bold" font-style="italic" textLength="20.2" lengthAdjust="spacingAndGlyphs">580</text>
<text x="1332.30" y="315.00" font-size="13" text-anchor="middle" font-weight="bold" font-style="italic" textLength="25.2" lengthAdjust="spacingAndGlyphs">1995</text>
<text x="644.55" y="336.80" font-size="13" text-anchor="middle" font-weight="bold" font-style="italic" textLength="38.6" lengthAdjust="spacingAndGlyphs">100x90</text>
<text x="768.90" y="336.80" font-size="13" text-anchor="middle" font-weight="bold" font-style="italic" textLength="116.4" lengthAdjust="spacingAndGlyphs">985–1000 x 885–900</text>
<text x="902.30" y="336.80" font-size="13" text-anchor="middle" font-weight="bold" font-style="italic" textLength="47.8" lengthAdjust="spacingAndGlyphs">973–988</text>
<text x="992.95" y="337.20" font-size="13" text-anchor="middle" font-weight="bold" font-style="italic" textLength="45.9" lengthAdjust="spacingAndGlyphs">871–886</text>
<text x="1070.30" y="336.40" font-size="13" text-anchor="middle" font-weight="bold" font-style="italic" textLength="20.2" lengthAdjust="spacingAndGlyphs">580</text>
<text x="1137.20" y="337.50" font-size="13" text-anchor="middle" font-weight="bold" font-style="italic" textLength="20.2" lengthAdjust="spacingAndGlyphs">340</text>
<text x="1203.35" y="337.50" font-size="13" text-anchor="middle" font-weight="bold" font-style="italic" textLength="20.2" lengthAdjust="spacingAndGlyphs">820</text>
<text x="1269.20" y="337.90" font-size="13" text-anchor="middle" font-weight="bold" font-style="italic" textLength="20.2" lengthAdjust="spacingAndGlyphs">580</text>
<text x="1332.30" y="335.60" font-size="13" text-anchor="middle" font-weight="bold" font-style="italic" textLength="25.2" lengthAdjust="spacingAndGlyphs">1995</text>
<text x="644.55" y="357.40" font-size="13" text-anchor="middle" font-weight="bold" font-style="italic" textLength="41.7" lengthAdjust="spacingAndGlyphs">100x110</text>
<text x="768.90" y="357.40" font-size="13" text-anchor="middle" font-weight="bold" font-style="italic" textLength="124.5" lengthAdjust="spacingAndGlyphs">985–1000 x 1085–1100</text>
<text x="902.30" y="357.40" font-size="13" text-anchor="middle" font-weight="bold" font-style="italic" textLength="47.8" lengthAdjust="spacingAndGlyphs">973–988</text>
<text x="992.95" y="357.80" font-size="13" text-anchor="middle" font-weight="bold" font-style="italic" textLength="55.9" lengthAdjust="spacingAndGlyphs">1071–1086</text>
<text x="1070.30" y="357.00" font-size="13" text-anchor="middle" font-weight="bold" font-style="italic" textLength="20.2" lengthAdjust="spacingAndGlyphs">580</text>
<text x="1137.20" y="358.10" font-size="13" text-anchor="middle" font-weight="bold" font-style="italic" textLength="20.2" lengthAdjust="spacingAndGlyphs">340</text>
<text x="1203.35" y="358.10" font-size="13" text-anchor="middle" font-weight="bold" font-style="italic" textLength="25.2" lengthAdjust="spacingAndGlyphs">1020</text>
<text x="1269.20" y="358.50" font-size="13" text-anchor="middle" font-weight="bold" font-style="italic" textLength="20.2" lengthAdjust="spacingAndGlyphs">580</text>
<text x="1332.30" y="356.20" font-size="13" text-anchor="middle" font-weight="bold" font-style="italic" textLength="25.2" lengthAdjust="spacingAndGlyphs">1995</text>
<text x="644.55" y="378.00" font-size="13" text-anchor="middle" font-weight="bold" font-style="italic" textLength="43.6" lengthAdjust="spacingAndGlyphs">100x120</text>
<text x="768.90" y="378.00" font-size="13" text-anchor="middle" font-weight="bold" font-style="italic" textLength="124.5" lengthAdjust="spacingAndGlyphs">985–1000 x 1185–1200</text>
<text x="902.30" y="378.00" font-size="13" text-anchor="middle" font-weight="bold" font-style="italic" textLength="47.8" lengthAdjust="spacingAndGlyphs">973–988</text>
<text x="992.95" y="378.40" font-size="13" text-anchor="middle" font-weight="bold" font-style="italic" textLength="52.1" lengthAdjust="spacingAndGlyphs">1171–1186</text>
<text x="1070.30" y="377.60" font-size="13" text-anchor="middle" font-weight="bold" font-style="italic" textLength="20.2" lengthAdjust="spacingAndGlyphs">580</text>
<text x="1137.20" y="378.70" font-size="13" text-anchor="middle" font-weight="bold" font-style="italic" textLength="20.2" lengthAdjust="spacingAndGlyphs">340</text>
<text x="1203.35" y="378.70" font-size="13" text-anchor="middle" font-weight="bold" font-style="italic" textLength="23.3" lengthAdjust="spacingAndGlyphs">1120</text>
<text x="1269.20" y="379.10" font-size="13" text-anchor="middle" font-weight="bold" font-style="italic" textLength="20.2" lengthAdjust="spacingAndGlyphs">580</text>
<text x="1332.30" y="376.80" font-size="13" text-anchor="middle" font-weight="bold" font-style="italic" textLength="25.2" lengthAdjust="spacingAndGlyphs">1995</text>
<text x="644.55" y="398.60" font-size="13" text-anchor="middle" font-weight="bold" font-style="italic" textLength="36.7" lengthAdjust="spacingAndGlyphs">110x80</text>
<text x="768.90" y="398.60" font-size="13" text-anchor="middle" font-weight="bold" font-style="italic" textLength="119.5" lengthAdjust="spacingAndGlyphs">1085–1100 x 785–800</text>
<text x="902.30" y="398.60" font-size="13" text-anchor="middle" font-weight="bold" font-style="italic" textLength="57.8" lengthAdjust="spacingAndGlyphs">1073–1088</text>
<text x="992.95" y="399.00" font-size="13" text-anchor="middle" font-weight="bold" font-style="italic" textLength="45.9" lengthAdjust="spacingAndGlyphs">771–786</text>
<text x="1070.30" y="398.20" font-size="13" text-anchor="middle" font-weight="bold" font-style="italic" textLength="20.2" lengthAdjust="spacingAndGlyphs">580</text>
<text x="1137.20" y="399.30" font-size="13" text-anchor="middle" font-weight="bold" font-style="italic" textLength="20.2" lengthAdjust="spacingAndGlyphs">440</text>
<text x="1203.35" y="399.30" font-size="13" text-anchor="middle" font-weight="bold" font-style="italic" textLength="20.2" lengthAdjust="spacingAndGlyphs">720</text>
<text x="1269.20" y="399.70" font-size="13" text-anchor="middle" font-weight="bold" font-style="italic" textLength="20.2" lengthAdjust="spacingAndGlyphs">580</text>
<text x="1332.30" y="397.40" font-size="13" text-anchor="middle" font-weight="bold" font-style="italic" textLength="25.2" lengthAdjust="spacingAndGlyphs">1995</text>
<text x="644.55" y="419.20" font-size="13" text-anchor="middle" font-weight="bold" font-style="italic" textLength="36.7" lengthAdjust="spacingAndGlyphs">110x90</text>
<text x="768.90" y="419.20" font-size="13" text-anchor="middle" font-weight="bold" font-style="italic" textLength="119.5" lengthAdjust="spacingAndGlyphs">1085–1100 x 885–900</text>
<text x="902.30" y="419.20" font-size="13" text-anchor="middle" font-weight="bold" font-style="italic" textLength="57.8" lengthAdjust="spacingAndGlyphs">1073–1088</text>
<text x="992.95" y="419.60" font-size="13" text-anchor="middle" font-weight="bold" font-style="italic" textLength="45.9" lengthAdjust="spacingAndGlyphs">871–886</text>
<text x="1070.30" y="418.80" font-size="13" text-anchor="middle" font-weight="bold" font-style="italic" textLength="20.2" lengthAdjust="spacingAndGlyphs">580</text>
<text x="1137.20" y="419.90" font-size="13" text-anchor="middle" font-weight="bold" font-style="italic" textLength="20.2" lengthAdjust="spacingAndGlyphs">440</text>
<text x="1203.35" y="419.90" font-size="13" text-anchor="middle" font-weight="bold" font-style="italic" textLength="20.2" lengthAdjust="spacingAndGlyphs">820</text>
<text x="1269.20" y="420.30" font-size="13" text-anchor="middle" font-weight="bold" font-style="italic" textLength="20.2" lengthAdjust="spacingAndGlyphs">580</text>
<text x="1332.30" y="418.00" font-size="13" text-anchor="middle" font-weight="bold" font-style="italic" textLength="25.2" lengthAdjust="spacingAndGlyphs">1995</text>
<text x="644.55" y="439.80" font-size="13" text-anchor="middle" font-weight="bold" font-style="italic" textLength="41.7" lengthAdjust="spacingAndGlyphs">110x100</text>
<text x="768.90" y="439.80" font-size="13" text-anchor="middle" font-weight="bold" font-style="italic" textLength="124.5" lengthAdjust="spacingAndGlyphs">1085–1100 x 985–1000</text>
<text x="902.30" y="439.80" font-size="13" text-anchor="middle" font-weight="bold" font-style="italic" textLength="57.8" lengthAdjust="spacingAndGlyphs">1073–1088</text>
<text x="992.95" y="440.20" font-size="13" text-anchor="middle" font-weight="bold" font-style="italic" textLength="45.9" lengthAdjust="spacingAndGlyphs">971–986</text>
<text x="1070.30" y="439.40" font-size="13" text-anchor="middle" font-weight="bold" font-style="italic" textLength="20.2" lengthAdjust="spacingAndGlyphs">580</text>
<text x="1137.20" y="440.50" font-size="13" text-anchor="middle" font-weight="bold" font-style="italic" textLength="20.2" lengthAdjust="spacingAndGlyphs">440</text>
<text x="1203.35" y="440.50" font-size="13" text-anchor="middle" font-weight="bold" font-style="italic" textLength="20.2" lengthAdjust="spacingAndGlyphs">920</text>
<text x="1269.20" y="440.90" font-size="13" text-anchor="middle" font-weight="bold" font-style="italic" textLength="20.2" lengthAdjust="spacingAndGlyphs">580</text>
<text x="1332.30" y="438.60" font-size="13" text-anchor="middle" font-weight="bold" font-style="italic" textLength="25.2" lengthAdjust="spacingAndGlyphs">1995</text>
<text x="644.55" y="460.40" font-size="13" text-anchor="middle" font-weight="bold" font-style="italic" textLength="41.7" lengthAdjust="spacingAndGlyphs">110x120</text>
<text x="768.90" y="460.40" font-size="13" text-anchor="middle" font-weight="bold" font-style="italic" textLength="127.6" lengthAdjust="spacingAndGlyphs">1085–1100 x 1185–1200</text>
<text x="902.30" y="460.40" font-size="13" text-anchor="middle" font-weight="bold" font-style="italic" textLength="57.8" lengthAdjust="spacingAndGlyphs">1073–1088</text>
<text x="992.95" y="460.80" font-size="13" text-anchor="middle" font-weight="bold" font-style="italic" textLength="52.1" lengthAdjust="spacingAndGlyphs">1171–1186</text>
<text x="1070.30" y="460.00" font-size="13" text-anchor="middle" font-weight="bold" font-style="italic" textLength="20.2" lengthAdjust="spacingAndGlyphs">580</text>
<text x="1137.20" y="461.10" font-size="13" text-anchor="middle" font-weight="bold" font-style="italic" textLength="20.2" lengthAdjust="spacingAndGlyphs">440</text>
<text x="1203.35" y="461.10" font-size="13" text-anchor="middle" font-weight="bold" font-style="italic" textLength="23.3" lengthAdjust="spacingAndGlyphs">1120</text>
<text x="1269.20" y="461.50" font-size="13" text-anchor="middle" font-weight="bold" font-style="italic" textLength="20.2" lengthAdjust="spacingAndGlyphs">580</text>
<text x="1332.30" y="459.20" font-size="13" text-anchor="middle" font-weight="bold" font-style="italic" textLength="25.2" lengthAdjust="spacingAndGlyphs">1995</text>
<text x="644.55" y="481.00" font-size="13" text-anchor="middle" font-weight="bold" font-style="italic" textLength="38.6" lengthAdjust="spacingAndGlyphs">120x80</text>
<text x="768.90" y="481.00" font-size="13" text-anchor="middle" font-weight="bold" font-style="italic" textLength="119.5" lengthAdjust="spacingAndGlyphs">1185–1200 x 785–800</text>
<text x="902.30" y="481.00" font-size="13" text-anchor="middle" font-weight="bold" font-style="italic" textLength="54.0" lengthAdjust="spacingAndGlyphs">1173–1188</text>
<text x="992.95" y="481.40" font-size="13" text-anchor="middle" font-weight="bold" font-style="italic" textLength="45.9" lengthAdjust="spacingAndGlyphs">771–786</text>
<text x="1070.30" y="480.60" font-size="13" text-anchor="middle" font-weight="bold" font-style="italic" textLength="20.2" lengthAdjust="spacingAndGlyphs">580</text>
<text x="1137.20" y="481.70" font-size="13" text-anchor="middle" font-weight="bold" font-style="italic" textLength="20.2" lengthAdjust="spacingAndGlyphs">540</text>
<text x="1203.35" y="481.70" font-size="13" text-anchor="middle" font-weight="bold" font-style="italic" textLength="20.2" lengthAdjust="spacingAndGlyphs">720</text>
<text x="1269.20" y="482.10" font-size="13" text-anchor="middle" font-weight="bold" font-style="italic" textLength="20.2" lengthAdjust="spacingAndGlyphs">580</text>
<text x="1332.30" y="479.80" font-size="13" text-anchor="middle" font-weight="bold" font-style="italic" textLength="25.2" lengthAdjust="spacingAndGlyphs">1995</text>
<text x="644.55" y="501.60" font-size="13" text-anchor="middle" font-weight="bold" font-style="italic" textLength="38.6" lengthAdjust="spacingAndGlyphs">120x90</text>
<text x="768.90" y="501.60" font-size="13" text-anchor="middle" font-weight="bold" font-style="italic" textLength="119.5" lengthAdjust="spacingAndGlyphs">1185–1200 x 885–900</text>
<text x="902.30" y="501.60" font-size="13" text-anchor="middle" font-weight="bold" font-style="italic" textLength="54.0" lengthAdjust="spacingAndGlyphs">1173–1188</text>
<text x="992.95" y="502.00" font-size="13" text-anchor="middle" font-weight="bold" font-style="italic" textLength="45.9" lengthAdjust="spacingAndGlyphs">871–886</text>
<text x="1070.30" y="501.20" font-size="13" text-anchor="middle" font-weight="bold" font-style="italic" textLength="20.2" lengthAdjust="spacingAndGlyphs">580</text>
<text x="1137.20" y="502.30" font-size="13" text-anchor="middle" font-weight="bold" font-style="italic" textLength="20.2" lengthAdjust="spacingAndGlyphs">540</text>
<text x="1203.35" y="502.30" font-size="13" text-anchor="middle" font-weight="bold" font-style="italic" textLength="20.2" lengthAdjust="spacingAndGlyphs">820</text>
<text x="1269.20" y="502.70" font-size="13" text-anchor="middle" font-weight="bold" font-style="italic" textLength="20.2" lengthAdjust="spacingAndGlyphs">580</text>
<text x="1332.30" y="500.40" font-size="13" text-anchor="middle" font-weight="bold" font-style="italic" textLength="25.2" lengthAdjust="spacingAndGlyphs">1995</text>
<text x="644.55" y="522.20" font-size="13" text-anchor="middle" font-weight="bold" font-style="italic" textLength="43.6" lengthAdjust="spacingAndGlyphs">120x100</text>
<text x="768.90" y="522.20" font-size="13" text-anchor="middle" font-weight="bold" font-style="italic" textLength="124.5" lengthAdjust="spacingAndGlyphs">1185–1200 x 985–1000</text>
<text x="902.30" y="522.20" font-size="13" text-anchor="middle" font-weight="bold" font-style="italic" textLength="54.0" lengthAdjust="spacingAndGlyphs">1173–1188</text>
<text x="992.95" y="522.60" font-size="13" text-anchor="middle" font-weight="bold" font-style="italic" textLength="45.9" lengthAdjust="spacingAndGlyphs">971–986</text>
<text x="1070.30" y="521.80" font-size="13" text-anchor="middle" font-weight="bold" font-style="italic" textLength="20.2" lengthAdjust="spacingAndGlyphs">580</text>
<text x="1137.20" y="522.90" font-size="13" text-anchor="middle" font-weight="bold" font-style="italic" textLength="20.2" lengthAdjust="spacingAndGlyphs">540</text>
<text x="1203.35" y="522.90" font-size="13" text-anchor="middle" font-weight="bold" font-style="italic" textLength="20.2" lengthAdjust="spacingAndGlyphs">920</text>
<text x="1269.20" y="523.30" font-size="13" text-anchor="middle" font-weight="bold" font-style="italic" textLength="20.2" lengthAdjust="spacingAndGlyphs">580</text>
<text x="1332.30" y="521.00" font-size="13" text-anchor="middle" font-weight="bold" font-style="italic" textLength="25.2" lengthAdjust="spacingAndGlyphs">1995</text>
<text x="644.55" y="542.80" font-size="13" text-anchor="middle" font-weight="bold" font-style="italic" textLength="41.7" lengthAdjust="spacingAndGlyphs">120x110</text>
<text x="768.90" y="542.80" font-size="13" text-anchor="middle" font-weight="bold" font-style="italic" textLength="127.6" lengthAdjust="spacingAndGlyphs">1185–1200 x 1085–1100</text>
<text x="902.30" y="542.80" font-size="13" text-anchor="middle" font-weight="bold" font-style="italic" textLength="54.0" lengthAdjust="spacingAndGlyphs">1173–1188</text>
<text x="992.95" y="543.20" font-size="13" text-anchor="middle" font-weight="bold" font-style="italic" textLength="55.9" lengthAdjust="spacingAndGlyphs">1071–1086</text>
<text x="1070.30" y="542.40" font-size="13" text-anchor="middle" font-weight="bold" font-style="italic" textLength="20.2" lengthAdjust="spacingAndGlyphs">580</text>
<text x="1137.20" y="543.50" font-size="13" text-anchor="middle" font-weight="bold" font-style="italic" textLength="20.2" lengthAdjust="spacingAndGlyphs">540</text>
<text x="1203.35" y="543.50" font-size="13" text-anchor="middle" font-weight="bold" font-style="italic" textLength="25.2" lengthAdjust="spacingAndGlyphs">1020</text>
<text x="1269.20" y="543.90" font-size="13" text-anchor="middle" font-weight="bold" font-style="italic" textLength="20.2" lengthAdjust="spacingAndGlyphs">580</text>
<text x="1332.30" y="541.60" font-size="13" text-anchor="middle" font-weight="bold" font-style="italic" textLength="25.2" lengthAdjust="spacingAndGlyphs">1995</text>
<text x="619.40" y="118.90" font-size="14" text-anchor="start" font-weight="bold" font-style="italic" textLength="52.3" lengthAdjust="spacingAndGlyphs">Артикул</text>
<text x="718.60" y="110.70" font-size="14" text-anchor="start" font-weight="bold" font-style="italic" textLength="100.0" lengthAdjust="spacingAndGlyphs">Регулировочный</text>
<text x="714.10" y="127.90" font-size="14" text-anchor="start" font-weight="bold" font-style="italic" textLength="113.6" lengthAdjust="spacingAndGlyphs">размер A1 x A2, мм</text>
<text x="860.80" y="110.70" font-size="11" text-anchor="start" font-weight="bold" font-style="italic" textLength="81.2" lengthAdjust="spacingAndGlyphs">Регулировочный</text>
<text x="867.10" y="124.30" font-size="11" text-anchor="start" font-weight="bold" font-style="italic" textLength="68.6" lengthAdjust="spacingAndGlyphs">размер X1, мм</text>
<text x="951.90" y="110.70" font-size="11" text-anchor="start" font-weight="bold" font-style="italic" textLength="81.1" lengthAdjust="spacingAndGlyphs">Регулировочный</text>
<text x="958.20" y="124.30" font-size="11" text-anchor="start" font-weight="bold" font-style="italic" textLength="69.4" lengthAdjust="spacingAndGlyphs">размер X2, мм</text>
<text x="1047.50" y="111.40" font-size="15" text-anchor="start" font-weight="bold" font-style="italic" textLength="43.3" lengthAdjust="spacingAndGlyphs">Размер</text>
<text x="1114.00" y="111.40" font-size="15" text-anchor="start" font-weight="bold" font-style="italic" textLength="44.1" lengthAdjust="spacingAndGlyphs">Размер</text>
<text x="1183.40" y="111.40" font-size="15" text-anchor="start" font-weight="bold" font-style="italic" textLength="44.0" lengthAdjust="spacingAndGlyphs">Размер</text>
<text x="1053.80" y="127.90" font-size="15" text-anchor="start" font-weight="bold" font-style="italic" textLength="30.6" lengthAdjust="spacingAndGlyphs">B, мм</text>
<text x="1119.70" y="127.00" font-size="15" text-anchor="start" font-weight="bold" font-style="italic" textLength="30.9" lengthAdjust="spacingAndGlyphs">C, мм</text>
<text x="1190.00" y="127.00" font-size="15" text-anchor="start" font-weight="bold" font-style="italic" textLength="30.0" lengthAdjust="spacingAndGlyphs">D, мм</text>
<text x="1251.80" y="104.60" font-size="11" text-anchor="start" font-weight="bold" font-style="italic" textLength="35.6" lengthAdjust="spacingAndGlyphs">Ширина</text>
<text x="1250.00" y="117.20" font-size="11" text-anchor="start" font-weight="bold" font-style="italic" textLength="40.2" lengthAdjust="spacingAndGlyphs">прохода</text>
<text x="1257.40" y="130.90" font-size="11" text-anchor="start" font-weight="bold" font-style="italic" textLength="24.4" lengthAdjust="spacingAndGlyphs">E, мм</text>
<text x="1309.90" y="107.20" font-size="14" text-anchor="start" font-weight="bold" font-style="italic" textLength="45.0" lengthAdjust="spacingAndGlyphs">Высота</text>
<text x="1307.00" y="119.00" font-size="14" text-anchor="start" font-weight="bold" font-style="italic" textLength="50.7" lengthAdjust="spacingAndGlyphs">изделия,</text>
<text x="1324.00" y="130.30" font-size="14" text-anchor="start" font-weight="bold" font-style="italic" textLength="15.9" lengthAdjust="spacingAndGlyphs">мм</text>
<text x="600.20" y="785.40" font-size="19" text-anchor="start" font-weight="normal" font-style="italic" textLength="680.3" lengthAdjust="spacingAndGlyphs" stroke="#000" stroke-width="0.42">Все стандартные габаритные размеры – предельные очертания ограждения –</text>
<text x="600.20" y="808.30" font-size="19" text-anchor="start" font-weight="normal" font-style="italic" textLength="693.6" lengthAdjust="spacingAndGlyphs" stroke="#000" stroke-width="0.42">расчитаны для установки на стандартные поддоны с шириной борта 50 мм. При</text>
<text x="600.20" y="831.00" font-size="19" text-anchor="start" font-weight="normal" font-style="italic" textLength="689.9" lengthAdjust="spacingAndGlyphs" stroke="#000" stroke-width="0.42">заказе стандартного ограждения для установки на пол или борт, выложенный</text>
<text x="600.20" y="853.90" font-size="19" text-anchor="start" font-weight="normal" font-style="italic" textLength="632.0" lengthAdjust="spacingAndGlyphs" stroke="#000" stroke-width="0.42">из плитки, необходимо учитывать техническую информацию об изделии.</text>
<text x="59.70" y="942.60" font-size="14" text-anchor="start" font-weight="bold" font-style="italic" textLength="73.3" lengthAdjust="spacingAndGlyphs">Внимание:</text>
<text x="139.30" y="942.60" font-size="14" text-anchor="start" font-weight="normal" font-style="italic" textLength="909.0" lengthAdjust="spacingAndGlyphs" stroke="#000" stroke-width="0.4">необходимо понимать, что душевые ограждения не обеспечивают полной герметичности по периметру, а предназначены</text>
<text x="59.70" y="962.40" font-size="14" text-anchor="start" font-weight="normal" font-style="italic" textLength="801.9" lengthAdjust="spacingAndGlyphs" stroke="#000" stroke-width="0.4">для защиты от брызг воды. При значительной нагрузке небольшое количество воды может вытечь наружу.</text>
<line x1="58.50" y1="946.60" x2="134.00" y2="946.60" stroke="#000" stroke-width="1.3"/>
<path d="M1308.6,937.6 L1321,929 L1312.4,963" fill="none" stroke="#000" stroke-width="4.9" stroke-linecap="round" stroke-linejoin="round"/>
<ellipse cx="1335.8" cy="946" rx="8.7" ry="16.9" fill="none" stroke="#000" stroke-width="5.2" transform="translate(1335.8,946) skewX(-10.5) translate(-1335.8,-946)"/>
</svg></body></html>
